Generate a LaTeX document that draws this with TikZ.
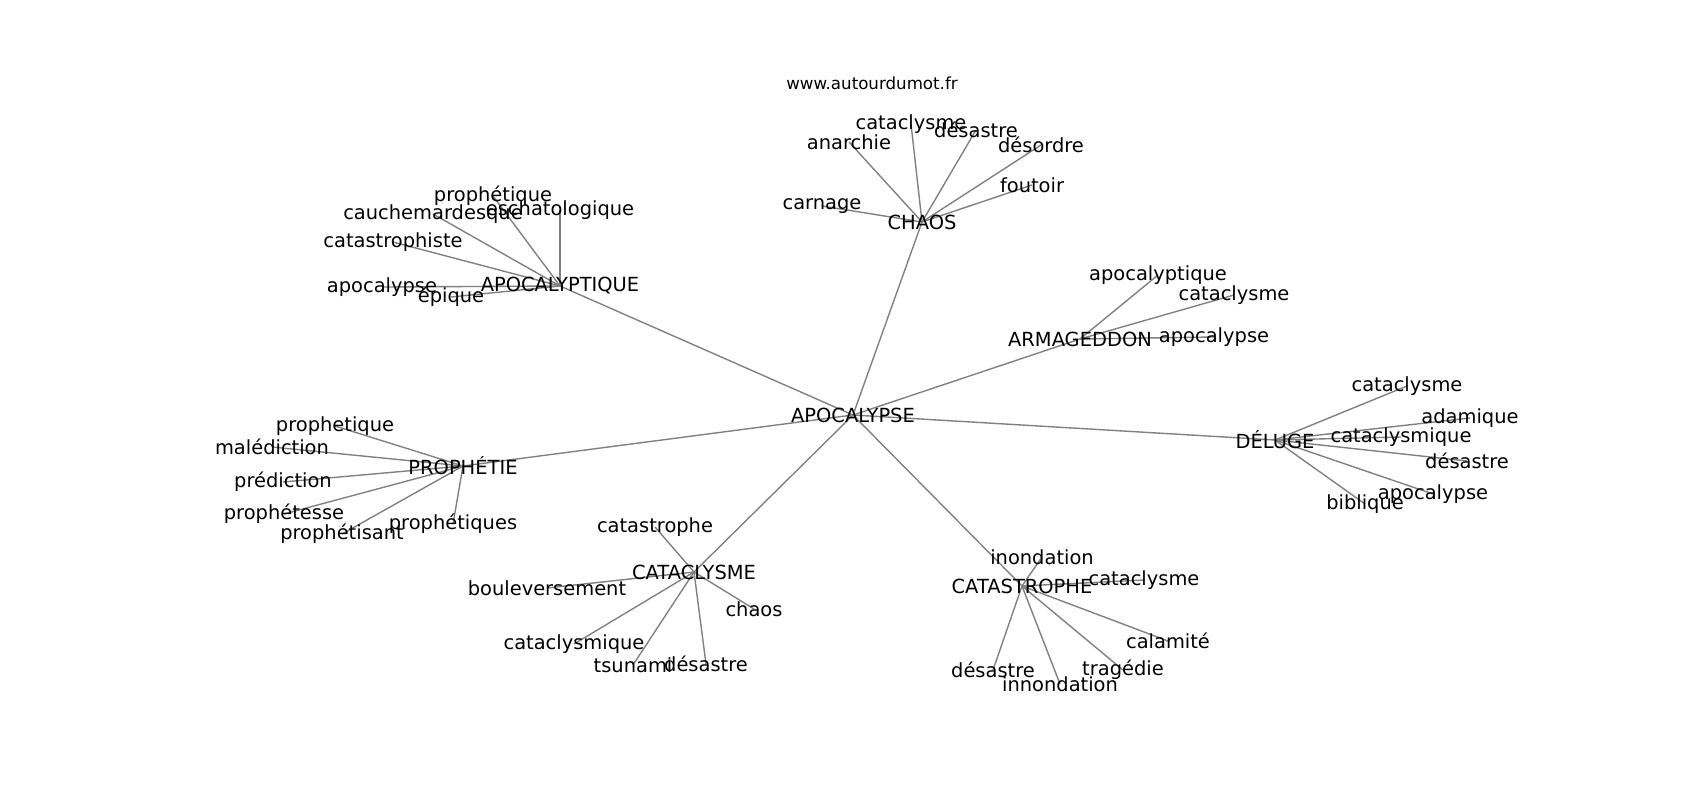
\documentclass[tikz,border=0pt]{standalone}
\usepackage{fontspec}
\setmainfont{DejaVu Sans}
\usetikzlibrary{backgrounds}

\begin{document}
\begin{tikzpicture}[
  x=0.72pt, y=-0.72pt,
  every node/.style={inner sep=0pt, text=black, font=\fontsize{14}{17}\selectfont},
  site/.style={font=\fontsize{12}{14}\selectfont},
  link/.style={draw=gray, line width=1pt}
]
\useasboundingbox (0,0) rectangle (1700,800);

% Title
\node[site] (site) at (872,83) {www.autourdumot.fr};

% Centre and hubs
\node (apo) at (853,415) {APOCALYPSE};
\node (chaos) at (922,222) {CHAOS};
\node (apoq) at (560,286) {APOCALYPTIQUE};
\node (armag) at (1080,339) {ARMAGEDDON};
\node (deluge) at (1275,440) {DÉLUGE};
\node (proph) at (463,466) {PROPHÉTIE};
\node (catac) at (694,572) {CATACLYSME};
\node (catas) at (1022,586) {CATASTROPHE};

% CHAOS
\node (chaos1) at (849,142) {anarchie};
\node (chaos2) at (911,124) {cataclysme};
\node (chaos3) at (976,130) {désastre};
\node (chaos4) at (1041,145) {désordre};
\node (chaos5) at (1032,185) {foutoir};
\node (chaos6) at (822,206) {carnage};

% APOCALYPTIQUE
\node (apoq1) at (493,196) {prophétique};
\node (apoq2) at (433,214) {cauchemardesque};
\node (apoq3) at (560,210) {eschatologique};
\node (apoq4) at (393,242) {catastrophiste};
\node (apoq5) at (382,287) {apocalypse};
\node (apoq6) at (451,297) {épique};

% ARMAGEDDON
\node (armag1) at (1158,275) {apocalyptique};
\node (armag2) at (1234,295) {cataclysme};
\node (armag3) at (1214,337) {apocalypse};

% DELUGE
\node (deluge1) at (1407,386) {cataclysme};
\node (deluge2) at (1470,418) {adamique};
\node (deluge3) at (1401,437) {cataclysmique};
\node (deluge4) at (1467,461) {désastre};
\node (deluge5) at (1433,494) {apocalypse};
\node (deluge6) at (1365,504) {biblique};

% PROPHETIE
\node (proph1) at (335,426) {prophetique};
\node (proph2) at (272,447) {malédiction};
\node (proph3) at (283,482) {prédiction};
\node (proph4) at (284,514) {prophétesse};
\node (proph5) at (342,534) {prophétisant};
\node (proph6) at (453,524) {prophétiques};

% CATACLYSME
\node (catac1) at (655,527) {catastrophe};
\node (catac2) at (547,588) {bouleversement};
\node (catac3) at (754,609) {chaos};
\node (catac4) at (574,644) {cataclysmique};
\node (catac5) at (633,665) {tsunami};
\node (catac6) at (706,664) {désastre};

% CATASTROPHE
\node (catas1) at (1042,557) {inondation};
\node (catas2) at (1144,580) {cataclysme};
\node (catas3) at (1168,641) {calamité};
\node (catas4) at (1123,670) {tragédie};
\node (catas5) at (1060,684) {innondation};
\node (catas6) at (993,670) {désastre};

% Links
\begin{scope}[on background layer]
  \foreach \hub/\n in {chaos/6, apoq/6, armag/3, deluge/6, proph/6, catac/6, catas/6} {
    \draw[link] (apo.center) -- (\hub.center);
    \foreach \i in {1,...,\n}
      \draw[link] (\hub.center) -- (\hub\i.center);
  }
\end{scope}

\end{tikzpicture}
\end{document}
